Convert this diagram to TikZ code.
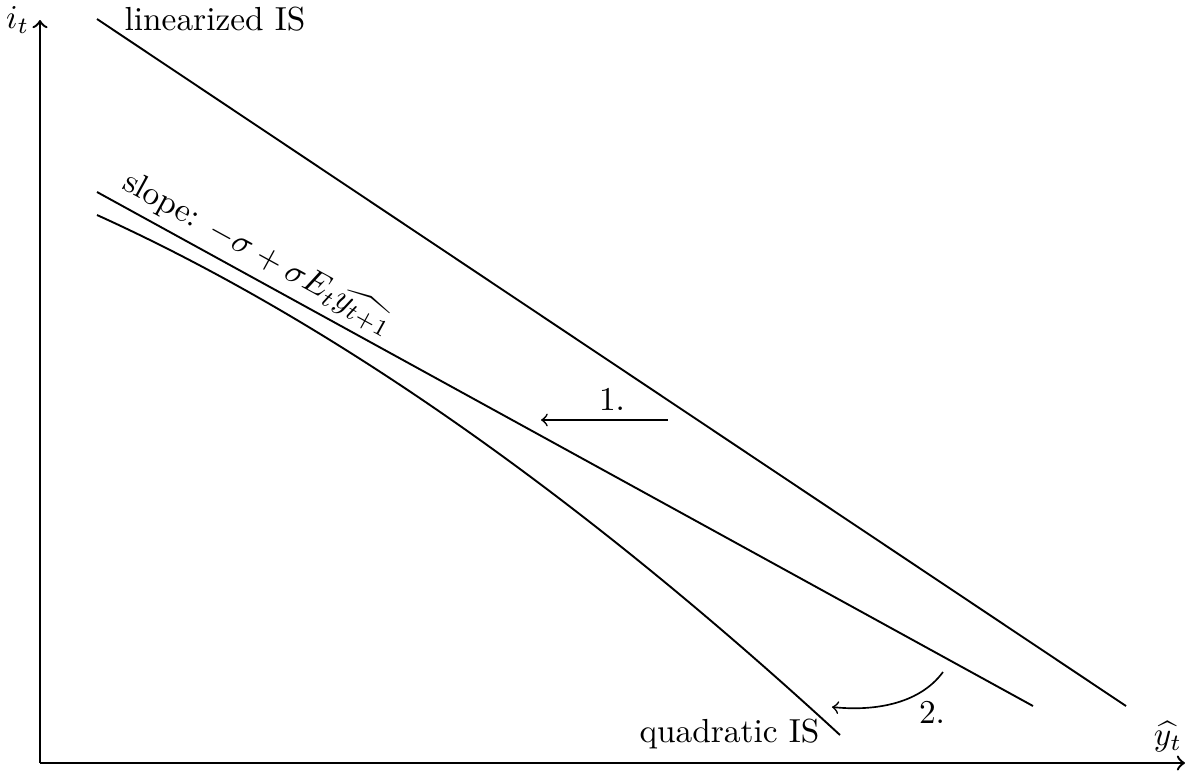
\documentclass[tikz,border=0pt]{standalone}
\begin{document}
\begin{tikzpicture}[x=0.3pt,y=-0.3pt,
  curve/.style={line width=0.57pt},
  axis/.style={line width=0.72pt,->},
  lbl/.style={font=\normalsize, inner sep=0pt},
  mvarrow/.style={line width=0.5pt,->}]
\useasboundingbox (0,0) rectangle (1203,772);
% axes
\coordinate (O) at (40,763);
\coordinate (Ytip) at (40,20);
\coordinate (Xtip) at (1185,763);
\draw[axis] (O) -- (Ytip);
\draw[axis] (O) -- (Xtip);
\node[lbl, anchor=east] (ilab) at (30,20) {$i_t$};
\node[lbl, anchor=base] (ylab) at (1168,745) {$\widehat{y_t}$};
% linearized IS
\coordinate (L1) at (97,19);
\coordinate (L2) at (1126,706);
\draw[curve] (L1) -- (L2);
\node[lbl, anchor=base west] (linlab) at (124,30) {linearized IS};
% slope line
\coordinate (S1) at (97,192);
\coordinate (S2) at (1033,706);
\draw[curve] (S1) -- (S2) node[lbl, pos=0.16, sloped, above=1.8pt] (slopelab) {slope: $-\sigma+\sigma E_t\widehat{y_{t+1}}$};
% quadratic IS
\coordinate (Q1) at (97,215);
\coordinate (Q2) at (840,735);
\draw[curve] (Q1) .. controls (329,320) and (577,493) .. (Q2);
\node[lbl, anchor=base east] (quadlab) at (820,742) {quadratic IS};
% arrow 1
\coordinate (A1s) at (668,420);
\coordinate (A1e) at (541,420);
\draw[mvarrow] (A1s) -- (A1e);
\node[lbl, anchor=base] (one) at (612,410) {1.};
% arrow 2
\coordinate (A2s) at (943,672);
\coordinate (A2e) at (832,707);
\draw[mvarrow] (A2s) .. controls (918,706) and (870,711) .. (A2e);
\node[lbl, anchor=base] (two) at (932,723) {2.};
\end{tikzpicture}
\end{document}
